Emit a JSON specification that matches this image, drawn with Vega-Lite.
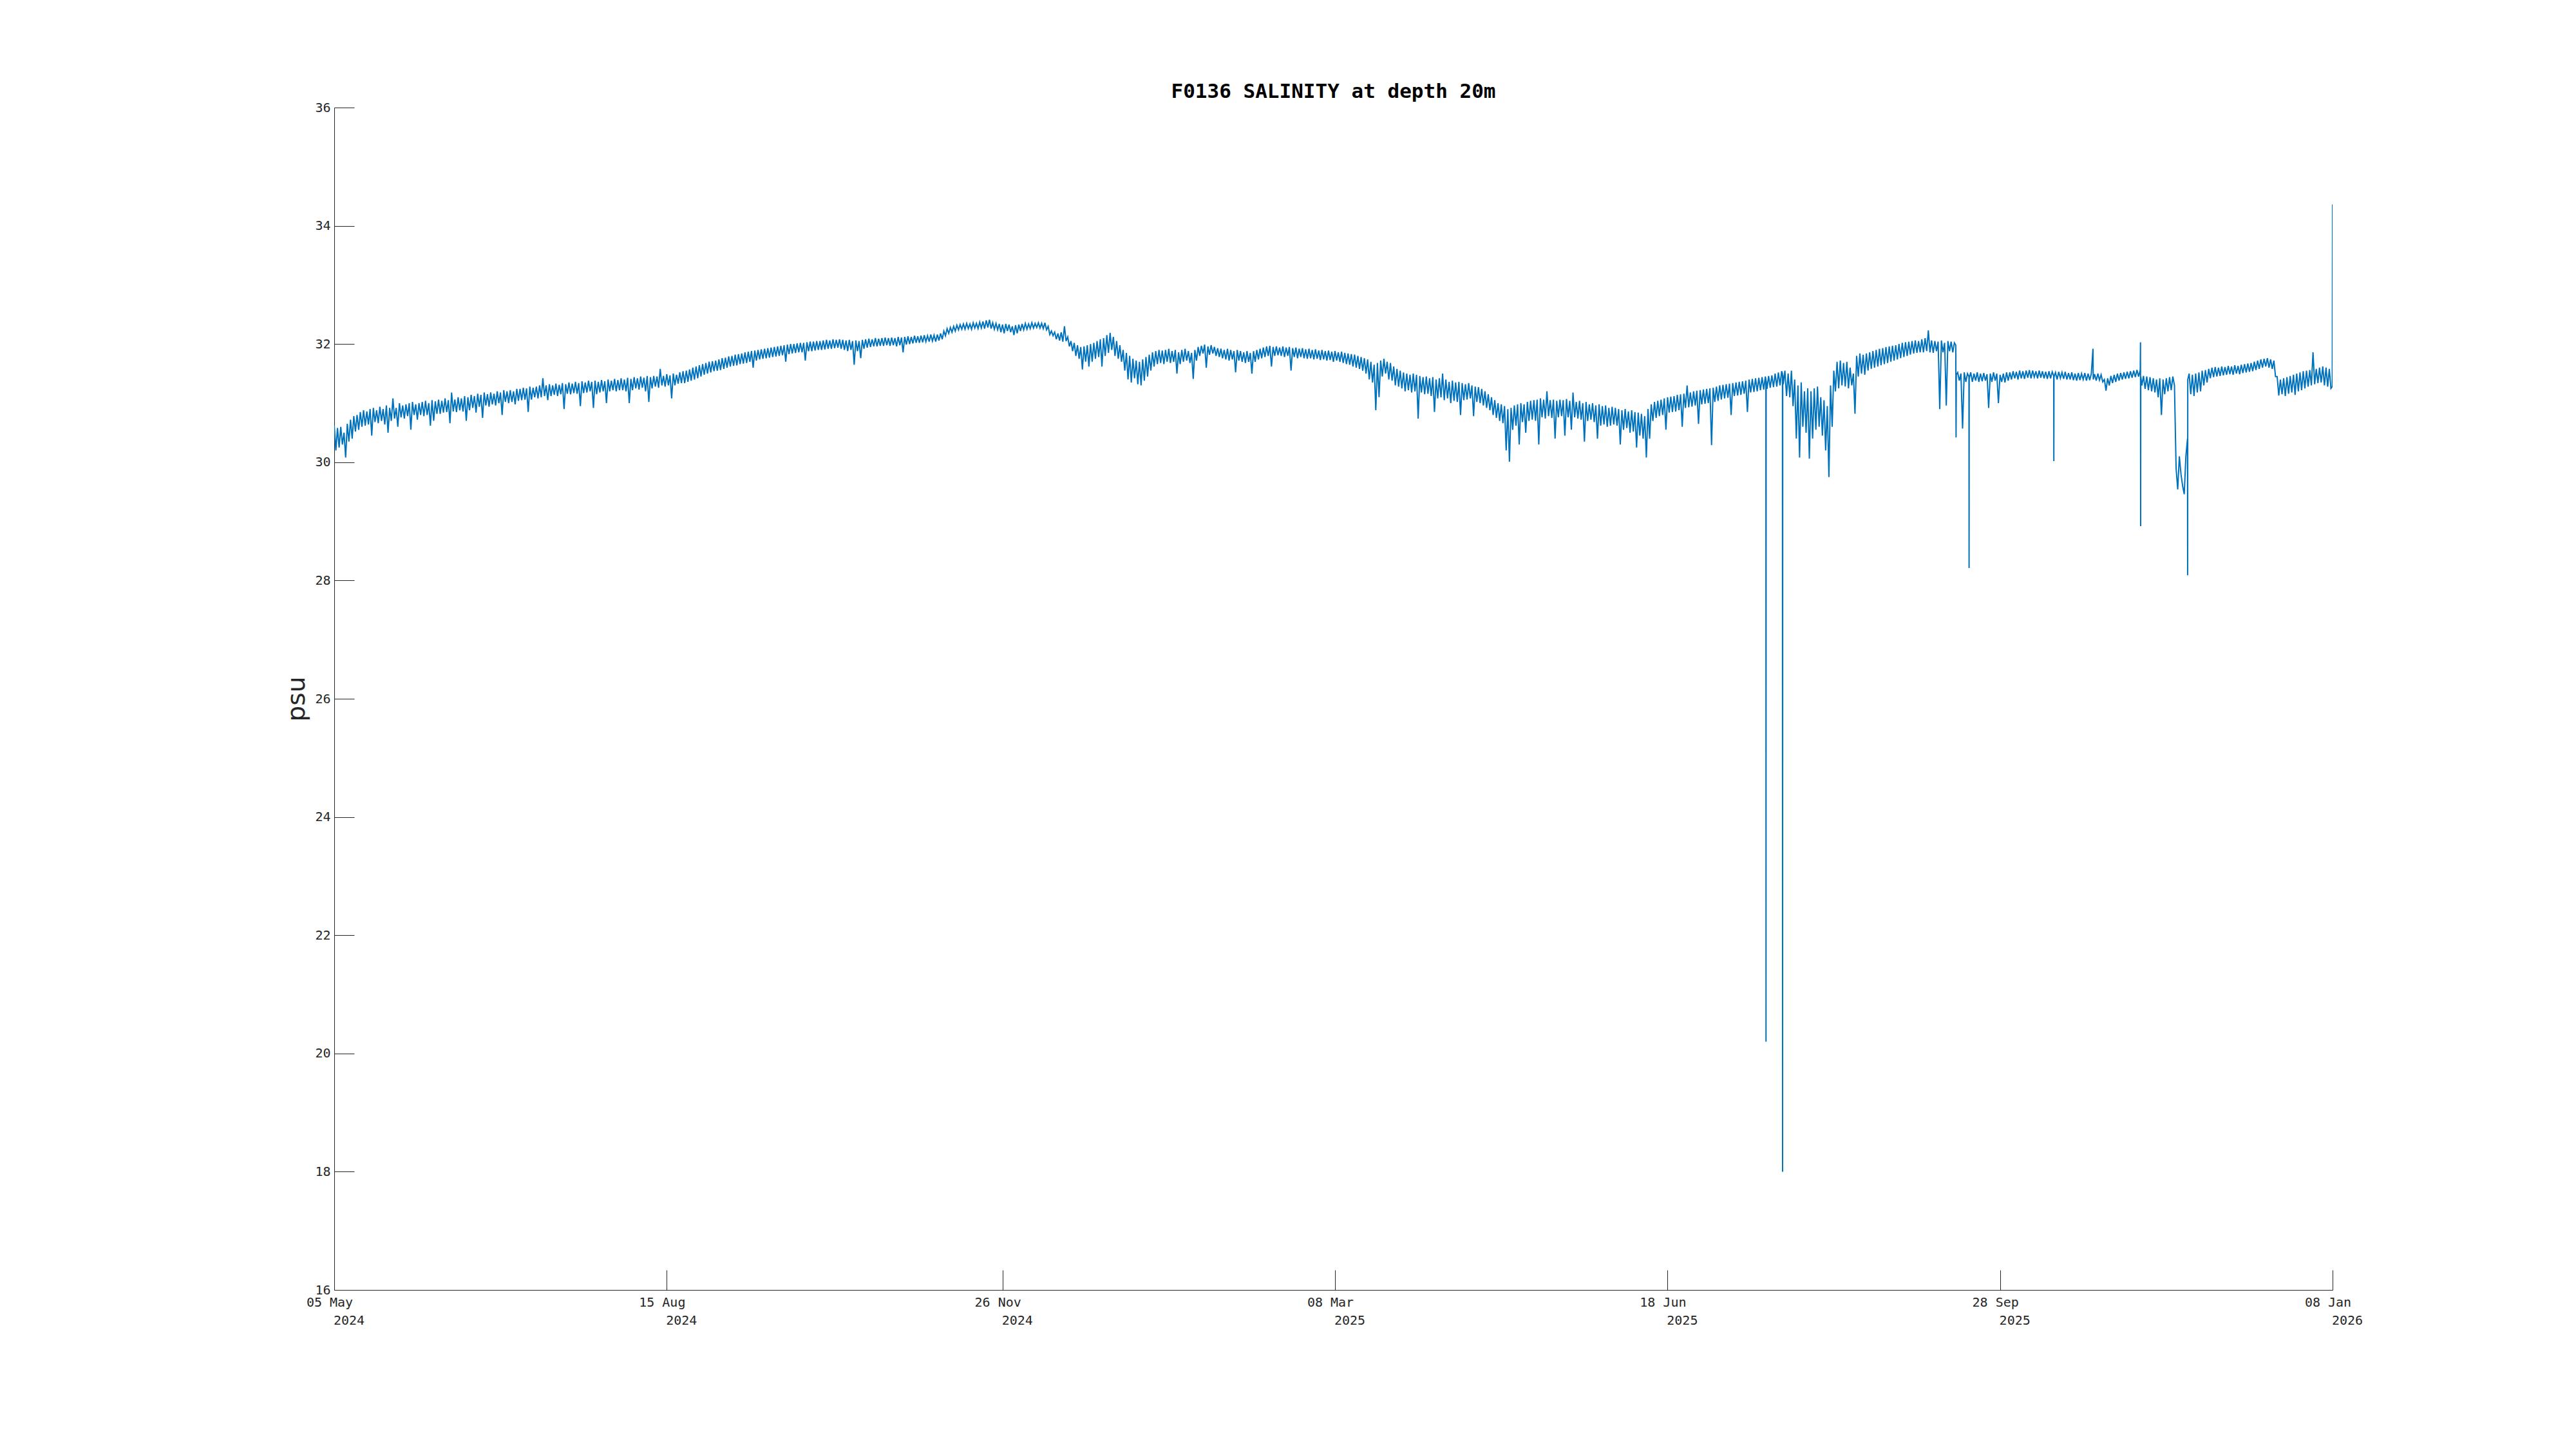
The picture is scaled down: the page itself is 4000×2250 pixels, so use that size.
{
"$schema": "https://vega.github.io/schema/vega-lite/v6.json",
"width": 3103, "height": 1836,
"autosize": {"type": "none"},
"padding": {"left": 519, "top": 167, "right": 378, "bottom": 247},
"background": "white",
"config": {"view": {"stroke": null}},
"title": {"text": "F0136 SALINITY at depth 20m", "font": "DejaVu Sans Mono", "fontSize": 31, "fontWeight": "bold", "color": "#000000", "anchor": "middle", "frame": "group", "offset": 15, "dy": 41, "baseline": "alphabetic"},
"data": {"format": {"parse": {"t": "utc:'%Y%m%d%H'"}}, "values": [
{"t":"2024050500","v":30.62},{"t":"2024050512","v":30.20},{"t":"2024050600","v":30.58},{"t":"2024050612","v":30.25},{"t":"2024050700","v":30.60},{"t":"2024050712","v":30.30},{"t":"2024050800","v":30.50},{"t":"2024050812","v":30.08},{"t":"2024050900","v":30.65},{"t":"2024050912","v":30.35},{"t":"2024051000","v":30.72},{"t":"2024051012","v":30.40},{"t":"2024051100","v":30.78},{"t":"2024051112","v":30.52},{"t":"2024051200","v":30.80},{"t":"2024051212","v":30.55},{"t":"2024051300","v":30.85},{"t":"2024051312","v":30.60},{"t":"2024051400","v":30.88},{"t":"2024051412","v":30.62},{"t":"2024051500","v":30.86},{"t":"2024051512","v":30.64},{"t":"2024051600","v":30.90},{"t":"2024051612","v":30.45},{"t":"2024051700","v":30.92},{"t":"2024051712","v":30.68},{"t":"2024051800","v":30.88},{"t":"2024051812","v":30.66},{"t":"2024051900","v":30.94},{"t":"2024051912","v":30.70},{"t":"2024052000","v":30.90},{"t":"2024052012","v":30.64},{"t":"2024052100","v":30.96},{"t":"2024052112","v":30.50},{"t":"2024052200","v":30.92},{"t":"2024052212","v":30.70},{"t":"2024052300","v":31.08},{"t":"2024052312","v":30.74},{"t":"2024052400","v":30.92},{"t":"2024052412","v":30.60},{"t":"2024052500","v":31.00},{"t":"2024052512","v":30.76},{"t":"2024052600","v":30.96},{"t":"2024052612","v":30.74},{"t":"2024052700","v":30.98},{"t":"2024052712","v":30.78},{"t":"2024052800","v":31.00},{"t":"2024052812","v":30.55},{"t":"2024052900","v":31.02},{"t":"2024052912","v":30.80},{"t":"2024053000","v":30.98},{"t":"2024053012","v":30.72},{"t":"2024053100","v":31.00},{"t":"2024053112","v":30.80},
{"t":"2024060100","v":31.02},{"t":"2024060112","v":30.78},{"t":"2024060200","v":31.04},{"t":"2024060212","v":30.80},{"t":"2024060300","v":31.00},{"t":"2024060312","v":30.62},{"t":"2024060400","v":31.05},{"t":"2024060412","v":30.70},{"t":"2024060500","v":31.03},{"t":"2024060512","v":30.82},{"t":"2024060600","v":31.06},{"t":"2024060612","v":30.82},{"t":"2024060700","v":31.04},{"t":"2024060712","v":30.84},{"t":"2024060800","v":31.08},{"t":"2024060812","v":30.85},{"t":"2024060900","v":31.05},{"t":"2024060912","v":30.66},{"t":"2024061000","v":31.18},{"t":"2024061012","v":30.86},{"t":"2024061100","v":31.06},{"t":"2024061112","v":30.85},{"t":"2024061200","v":31.10},{"t":"2024061212","v":30.88},{"t":"2024061300","v":31.08},{"t":"2024061312","v":30.86},{"t":"2024061400","v":31.12},{"t":"2024061412","v":30.70},{"t":"2024061500","v":31.10},{"t":"2024061512","v":30.88},{"t":"2024061600","v":31.14},{"t":"2024061612","v":30.92},{"t":"2024061700","v":31.12},{"t":"2024061712","v":30.84},{"t":"2024061800","v":31.16},{"t":"2024061812","v":30.94},{"t":"2024061900","v":31.14},{"t":"2024061912","v":30.75},{"t":"2024062000","v":31.18},{"t":"2024062012","v":30.96},{"t":"2024062100","v":31.15},{"t":"2024062112","v":30.94},{"t":"2024062200","v":31.18},{"t":"2024062212","v":30.98},{"t":"2024062300","v":31.16},{"t":"2024062312","v":30.96},{"t":"2024062400","v":31.20},{"t":"2024062412","v":31.00},{"t":"2024062500","v":31.18},{"t":"2024062512","v":30.80},{"t":"2024062600","v":31.22},{"t":"2024062612","v":31.02},{"t":"2024062700","v":31.20},{"t":"2024062712","v":31.00},{"t":"2024062800","v":31.22},{"t":"2024062812","v":31.02},{"t":"2024062900","v":31.20},{"t":"2024062912","v":30.98},{"t":"2024063000","v":31.24},{"t":"2024063012","v":31.04},
{"t":"2024070100","v":31.24},{"t":"2024070112","v":31.05},{"t":"2024070200","v":31.26},{"t":"2024070212","v":31.06},{"t":"2024070300","v":31.25},{"t":"2024070312","v":30.85},{"t":"2024070400","v":31.28},{"t":"2024070412","v":31.06},{"t":"2024070500","v":31.26},{"t":"2024070512","v":31.10},{"t":"2024070600","v":31.28},{"t":"2024070612","v":31.08},{"t":"2024070700","v":31.30},{"t":"2024070712","v":31.10},{"t":"2024070800","v":31.42},{"t":"2024070812","v":31.12},{"t":"2024070900","v":31.30},{"t":"2024070912","v":31.05},{"t":"2024071000","v":31.32},{"t":"2024071012","v":31.12},{"t":"2024071100","v":31.30},{"t":"2024071112","v":31.14},{"t":"2024071200","v":31.33},{"t":"2024071212","v":31.12},{"t":"2024071300","v":31.31},{"t":"2024071312","v":31.15},{"t":"2024071400","v":31.34},{"t":"2024071412","v":30.90},{"t":"2024071500","v":31.32},{"t":"2024071512","v":31.16},{"t":"2024071600","v":31.35},{"t":"2024071612","v":31.15},{"t":"2024071700","v":31.33},{"t":"2024071712","v":31.17},{"t":"2024071800","v":31.36},{"t":"2024071812","v":31.16},{"t":"2024071900","v":31.34},{"t":"2024071912","v":30.95},{"t":"2024072000","v":31.37},{"t":"2024072012","v":31.17},{"t":"2024072100","v":31.35},{"t":"2024072112","v":31.18},{"t":"2024072200","v":31.38},{"t":"2024072212","v":31.20},{"t":"2024072300","v":31.36},{"t":"2024072312","v":30.92},{"t":"2024072400","v":31.38},{"t":"2024072412","v":31.15},{"t":"2024072500","v":31.36},{"t":"2024072512","v":31.18},{"t":"2024072600","v":31.39},{"t":"2024072612","v":31.20},{"t":"2024072700","v":31.37},{"t":"2024072712","v":31.00},{"t":"2024072800","v":31.40},{"t":"2024072812","v":31.20},{"t":"2024072900","v":31.38},{"t":"2024072912","v":31.22},{"t":"2024073000","v":31.41},{"t":"2024073012","v":31.20},{"t":"2024073100","v":31.39},{"t":"2024073112","v":31.22},
{"t":"2024080100","v":31.42},{"t":"2024080112","v":31.22},{"t":"2024080200","v":31.40},{"t":"2024080212","v":31.20},{"t":"2024080300","v":31.43},{"t":"2024080312","v":31.00},{"t":"2024080400","v":31.41},{"t":"2024080412","v":31.22},{"t":"2024080500","v":31.44},{"t":"2024080512","v":31.25},{"t":"2024080600","v":31.42},{"t":"2024080612","v":31.23},{"t":"2024080700","v":31.45},{"t":"2024080712","v":31.26},{"t":"2024080800","v":31.43},{"t":"2024080812","v":31.20},{"t":"2024080900","v":31.46},{"t":"2024080912","v":31.02},{"t":"2024081000","v":31.44},{"t":"2024081012","v":31.25},{"t":"2024081100","v":31.46},{"t":"2024081112","v":31.28},{"t":"2024081200","v":31.45},{"t":"2024081212","v":31.26},{"t":"2024081300","v":31.58},{"t":"2024081312","v":31.30},{"t":"2024081400","v":31.46},{"t":"2024081412","v":31.28},{"t":"2024081500","v":31.49},{"t":"2024081512","v":31.30},{"t":"2024081600","v":31.47},{"t":"2024081612","v":31.08},{"t":"2024081700","v":31.50},{"t":"2024081712","v":31.30},{"t":"2024081800","v":31.48},{"t":"2024081812","v":31.33},{"t":"2024081900","v":31.52},{"t":"2024081912","v":31.34},{"t":"2024082000","v":31.54},{"t":"2024082012","v":31.34},{"t":"2024082100","v":31.55},{"t":"2024082112","v":31.36},{"t":"2024082200","v":31.57},{"t":"2024082212","v":31.38},{"t":"2024082300","v":31.60},{"t":"2024082312","v":31.40},{"t":"2024082400","v":31.62},{"t":"2024082412","v":31.42},{"t":"2024082500","v":31.64},{"t":"2024082512","v":31.45},{"t":"2024082600","v":31.66},{"t":"2024082612","v":31.48},{"t":"2024082700","v":31.68},{"t":"2024082712","v":31.50},{"t":"2024082800","v":31.70},{"t":"2024082812","v":31.52},{"t":"2024082900","v":31.71},{"t":"2024082912","v":31.54},{"t":"2024083000","v":31.72},{"t":"2024083012","v":31.55},{"t":"2024083100","v":31.74},{"t":"2024083112","v":31.56},
{"t":"2024090100","v":31.76},{"t":"2024090112","v":31.58},{"t":"2024090200","v":31.77},{"t":"2024090212","v":31.60},{"t":"2024090300","v":31.79},{"t":"2024090312","v":31.62},{"t":"2024090400","v":31.80},{"t":"2024090412","v":31.63},{"t":"2024090500","v":31.82},{"t":"2024090512","v":31.64},{"t":"2024090600","v":31.83},{"t":"2024090612","v":31.66},{"t":"2024090700","v":31.84},{"t":"2024090712","v":31.67},{"t":"2024090800","v":31.86},{"t":"2024090812","v":31.68},{"t":"2024090900","v":31.87},{"t":"2024090912","v":31.70},{"t":"2024091000","v":31.88},{"t":"2024091012","v":31.60},{"t":"2024091100","v":31.89},{"t":"2024091112","v":31.72},{"t":"2024091200","v":31.90},{"t":"2024091212","v":31.74},{"t":"2024091300","v":31.91},{"t":"2024091312","v":31.75},{"t":"2024091400","v":31.92},{"t":"2024091412","v":31.76},{"t":"2024091500","v":31.93},{"t":"2024091512","v":31.77},{"t":"2024091600","v":31.94},{"t":"2024091612","v":31.78},{"t":"2024091700","v":31.95},{"t":"2024091712","v":31.79},{"t":"2024091800","v":31.96},{"t":"2024091812","v":31.80},{"t":"2024091900","v":31.97},{"t":"2024091912","v":31.81},{"t":"2024092000","v":31.98},{"t":"2024092012","v":31.70},{"t":"2024092100","v":31.99},{"t":"2024092112","v":31.83},{"t":"2024092200","v":32.00},{"t":"2024092212","v":31.84},{"t":"2024092300","v":32.00},{"t":"2024092312","v":31.85},{"t":"2024092400","v":32.01},{"t":"2024092412","v":31.86},{"t":"2024092500","v":32.02},{"t":"2024092512","v":31.86},{"t":"2024092600","v":32.02},{"t":"2024092612","v":31.72},{"t":"2024092700","v":32.03},{"t":"2024092712","v":31.88},{"t":"2024092800","v":32.04},{"t":"2024092812","v":31.88},{"t":"2024092900","v":32.04},{"t":"2024092912","v":31.89},{"t":"2024093000","v":32.05},{"t":"2024093012","v":31.90},
{"t":"2024100100","v":32.05},{"t":"2024100112","v":31.90},{"t":"2024100200","v":32.06},{"t":"2024100212","v":31.91},{"t":"2024100300","v":32.07},{"t":"2024100312","v":31.92},{"t":"2024100400","v":32.06},{"t":"2024100412","v":31.92},{"t":"2024100500","v":32.08},{"t":"2024100512","v":31.93},{"t":"2024100600","v":32.07},{"t":"2024100612","v":31.94},{"t":"2024100700","v":32.08},{"t":"2024100712","v":31.92},{"t":"2024100800","v":32.07},{"t":"2024100812","v":31.90},{"t":"2024100900","v":32.06},{"t":"2024100912","v":31.88},{"t":"2024101000","v":32.07},{"t":"2024101012","v":31.90},{"t":"2024101100","v":32.05},{"t":"2024101112","v":31.65},{"t":"2024101200","v":32.06},{"t":"2024101212","v":31.88},{"t":"2024101300","v":32.05},{"t":"2024101312","v":31.76},{"t":"2024101400","v":32.07},{"t":"2024101412","v":31.92},{"t":"2024101500","v":32.08},{"t":"2024101512","v":31.94},{"t":"2024101600","v":32.09},{"t":"2024101612","v":31.95},{"t":"2024101700","v":32.08},{"t":"2024101712","v":31.96},{"t":"2024101800","v":32.10},{"t":"2024101812","v":31.96},{"t":"2024101900","v":32.09},{"t":"2024101912","v":31.97},{"t":"2024102000","v":32.10},{"t":"2024102012","v":31.97},{"t":"2024102100","v":32.11},{"t":"2024102112","v":31.98},{"t":"2024102200","v":32.10},{"t":"2024102212","v":31.97},{"t":"2024102300","v":32.11},{"t":"2024102312","v":31.98},{"t":"2024102400","v":32.10},{"t":"2024102412","v":31.96},{"t":"2024102500","v":32.12},{"t":"2024102512","v":31.98},{"t":"2024102600","v":32.11},{"t":"2024102612","v":31.86},{"t":"2024102700","v":32.12},{"t":"2024102712","v":31.99},{"t":"2024102800","v":32.13},{"t":"2024102812","v":32.00},{"t":"2024102900","v":32.12},{"t":"2024102912","v":32.01},{"t":"2024103000","v":32.14},{"t":"2024103012","v":32.02},{"t":"2024103100","v":32.13},{"t":"2024103112","v":32.02},
{"t":"2024110100","v":32.14},{"t":"2024110112","v":32.03},{"t":"2024110200","v":32.15},{"t":"2024110212","v":32.04},{"t":"2024110300","v":32.14},{"t":"2024110312","v":32.04},{"t":"2024110400","v":32.16},{"t":"2024110412","v":32.05},{"t":"2024110500","v":32.15},{"t":"2024110512","v":32.04},{"t":"2024110600","v":32.16},{"t":"2024110612","v":32.06},{"t":"2024110700","v":32.18},{"t":"2024110712","v":32.08},{"t":"2024110800","v":32.22},{"t":"2024110812","v":32.14},{"t":"2024110900","v":32.26},{"t":"2024110912","v":32.18},{"t":"2024111000","v":32.28},{"t":"2024111012","v":32.20},{"t":"2024111100","v":32.30},{"t":"2024111112","v":32.22},{"t":"2024111200","v":32.32},{"t":"2024111212","v":32.24},{"t":"2024111300","v":32.33},{"t":"2024111312","v":32.25},{"t":"2024111400","v":32.34},{"t":"2024111412","v":32.25},{"t":"2024111500","v":32.35},{"t":"2024111512","v":32.26},{"t":"2024111600","v":32.34},{"t":"2024111612","v":32.25},{"t":"2024111700","v":32.36},{"t":"2024111712","v":32.27},{"t":"2024111800","v":32.35},{"t":"2024111812","v":32.26},{"t":"2024111900","v":32.37},{"t":"2024111912","v":32.27},{"t":"2024112000","v":32.38},{"t":"2024112012","v":32.26},{"t":"2024112100","v":32.40},{"t":"2024112112","v":32.28},{"t":"2024112200","v":32.41},{"t":"2024112212","v":32.26},{"t":"2024112300","v":32.36},{"t":"2024112312","v":32.25},{"t":"2024112400","v":32.35},{"t":"2024112412","v":32.24},{"t":"2024112500","v":32.34},{"t":"2024112512","v":32.20},{"t":"2024112600","v":32.33},{"t":"2024112612","v":32.18},{"t":"2024112700","v":32.34},{"t":"2024112712","v":32.22},{"t":"2024112800","v":32.33},{"t":"2024112812","v":32.20},{"t":"2024112900","v":32.30},{"t":"2024112912","v":32.15},{"t":"2024113000","v":32.32},{"t":"2024113012","v":32.18},
{"t":"2024120100","v":32.33},{"t":"2024120112","v":32.22},{"t":"2024120200","v":32.34},{"t":"2024120212","v":32.24},{"t":"2024120300","v":32.35},{"t":"2024120312","v":32.25},{"t":"2024120400","v":32.34},{"t":"2024120412","v":32.26},{"t":"2024120500","v":32.36},{"t":"2024120512","v":32.27},{"t":"2024120600","v":32.35},{"t":"2024120612","v":32.28},{"t":"2024120700","v":32.36},{"t":"2024120712","v":32.27},{"t":"2024120800","v":32.35},{"t":"2024120812","v":32.26},{"t":"2024120900","v":32.36},{"t":"2024120912","v":32.24},{"t":"2024121000","v":32.30},{"t":"2024121012","v":32.16},{"t":"2024121100","v":32.22},{"t":"2024121112","v":32.14},{"t":"2024121200","v":32.20},{"t":"2024121212","v":32.08},{"t":"2024121300","v":32.18},{"t":"2024121312","v":32.06},{"t":"2024121400","v":32.20},{"t":"2024121412","v":32.04},{"t":"2024121500","v":32.30},{"t":"2024121512","v":32.05},{"t":"2024121600","v":32.12},{"t":"2024121612","v":31.96},{"t":"2024121700","v":32.05},{"t":"2024121712","v":31.88},{"t":"2024121800","v":32.02},{"t":"2024121812","v":31.80},{"t":"2024121900","v":31.98},{"t":"2024121912","v":31.75},{"t":"2024122000","v":31.95},{"t":"2024122012","v":31.57},{"t":"2024122100","v":31.96},{"t":"2024122112","v":31.70},{"t":"2024122200","v":31.98},{"t":"2024122212","v":31.62},{"t":"2024122300","v":32.00},{"t":"2024122312","v":31.70},{"t":"2024122400","v":32.02},{"t":"2024122412","v":31.75},{"t":"2024122500","v":32.05},{"t":"2024122512","v":31.78},{"t":"2024122600","v":32.08},{"t":"2024122612","v":31.62},{"t":"2024122700","v":32.10},{"t":"2024122712","v":31.80},{"t":"2024122800","v":32.15},{"t":"2024122812","v":31.85},{"t":"2024122900","v":32.19},{"t":"2024122912","v":31.90},{"t":"2024123000","v":32.12},{"t":"2024123012","v":31.80},{"t":"2024123100","v":32.05},{"t":"2024123112","v":31.75},
{"t":"2025010100","v":31.98},{"t":"2025010112","v":31.70},{"t":"2025010200","v":31.90},{"t":"2025010212","v":31.55},{"t":"2025010300","v":31.85},{"t":"2025010312","v":31.40},{"t":"2025010400","v":31.80},{"t":"2025010412","v":31.35},{"t":"2025010500","v":31.75},{"t":"2025010512","v":31.42},{"t":"2025010600","v":31.72},{"t":"2025010612","v":31.32},{"t":"2025010700","v":31.70},{"t":"2025010712","v":31.30},{"t":"2025010800","v":31.74},{"t":"2025010812","v":31.38},{"t":"2025010900","v":31.78},{"t":"2025010912","v":31.45},{"t":"2025011000","v":31.82},{"t":"2025011012","v":31.55},{"t":"2025011100","v":31.86},{"t":"2025011112","v":31.62},{"t":"2025011200","v":31.88},{"t":"2025011212","v":31.66},{"t":"2025011300","v":31.90},{"t":"2025011312","v":31.68},{"t":"2025011400","v":31.89},{"t":"2025011412","v":31.66},{"t":"2025011500","v":31.90},{"t":"2025011512","v":31.70},{"t":"2025011600","v":31.92},{"t":"2025011612","v":31.68},{"t":"2025011700","v":31.88},{"t":"2025011712","v":31.70},{"t":"2025011800","v":31.90},{"t":"2025011812","v":31.50},{"t":"2025011900","v":31.86},{"t":"2025011912","v":31.66},{"t":"2025012000","v":31.90},{"t":"2025012012","v":31.70},{"t":"2025012100","v":31.92},{"t":"2025012112","v":31.72},{"t":"2025012200","v":31.88},{"t":"2025012212","v":31.68},{"t":"2025012300","v":31.85},{"t":"2025012312","v":31.41},{"t":"2025012400","v":31.90},{"t":"2025012412","v":31.72},{"t":"2025012500","v":31.95},{"t":"2025012512","v":31.80},{"t":"2025012600","v":31.97},{"t":"2025012612","v":31.84},{"t":"2025012700","v":31.99},{"t":"2025012712","v":31.60},{"t":"2025012800","v":31.96},{"t":"2025012812","v":31.82},{"t":"2025012900","v":31.98},{"t":"2025012912","v":31.84},{"t":"2025013000","v":31.95},{"t":"2025013012","v":31.80},{"t":"2025013100","v":31.93},{"t":"2025013112","v":31.78},
{"t":"2025020100","v":31.92},{"t":"2025020112","v":31.76},{"t":"2025020200","v":31.90},{"t":"2025020212","v":31.74},{"t":"2025020300","v":31.92},{"t":"2025020312","v":31.72},{"t":"2025020400","v":31.90},{"t":"2025020412","v":31.74},{"t":"2025020500","v":31.88},{"t":"2025020512","v":31.52},{"t":"2025020600","v":31.90},{"t":"2025020612","v":31.72},{"t":"2025020700","v":31.88},{"t":"2025020712","v":31.70},{"t":"2025020800","v":31.86},{"t":"2025020812","v":31.68},{"t":"2025020900","v":31.88},{"t":"2025020912","v":31.70},{"t":"2025021000","v":31.85},{"t":"2025021012","v":31.50},{"t":"2025021100","v":31.88},{"t":"2025021112","v":31.70},{"t":"2025021200","v":31.90},{"t":"2025021212","v":31.74},{"t":"2025021300","v":31.92},{"t":"2025021312","v":31.76},{"t":"2025021400","v":31.94},{"t":"2025021412","v":31.78},{"t":"2025021500","v":31.96},{"t":"2025021512","v":31.80},{"t":"2025021600","v":31.97},{"t":"2025021612","v":31.62},{"t":"2025021700","v":31.95},{"t":"2025021712","v":31.80},{"t":"2025021800","v":31.96},{"t":"2025021812","v":31.81},{"t":"2025021900","v":31.94},{"t":"2025021912","v":31.80},{"t":"2025022000","v":31.96},{"t":"2025022012","v":31.78},{"t":"2025022100","v":31.94},{"t":"2025022112","v":31.80},{"t":"2025022200","v":31.95},{"t":"2025022212","v":31.55},{"t":"2025022300","v":31.93},{"t":"2025022312","v":31.78},{"t":"2025022400","v":31.94},{"t":"2025022412","v":31.76},{"t":"2025022500","v":31.92},{"t":"2025022512","v":31.78},{"t":"2025022600","v":31.93},{"t":"2025022612","v":31.76},{"t":"2025022700","v":31.91},{"t":"2025022712","v":31.75},{"t":"2025022800","v":31.92},{"t":"2025022812","v":31.76},
{"t":"2025030100","v":31.90},{"t":"2025030112","v":31.74},{"t":"2025030200","v":31.91},{"t":"2025030212","v":31.75},{"t":"2025030300","v":31.89},{"t":"2025030312","v":31.73},{"t":"2025030400","v":31.90},{"t":"2025030412","v":31.74},{"t":"2025030500","v":31.88},{"t":"2025030512","v":31.72},{"t":"2025030600","v":31.89},{"t":"2025030612","v":31.73},{"t":"2025030700","v":31.87},{"t":"2025030712","v":31.70},{"t":"2025030800","v":31.88},{"t":"2025030812","v":31.72},{"t":"2025030900","v":31.86},{"t":"2025030912","v":31.70},{"t":"2025031000","v":31.87},{"t":"2025031012","v":31.68},{"t":"2025031100","v":31.85},{"t":"2025031112","v":31.66},{"t":"2025031200","v":31.84},{"t":"2025031212","v":31.65},{"t":"2025031300","v":31.83},{"t":"2025031312","v":31.62},{"t":"2025031400","v":31.82},{"t":"2025031412","v":31.60},{"t":"2025031500","v":31.80},{"t":"2025031512","v":31.58},{"t":"2025031600","v":31.78},{"t":"2025031612","v":31.55},{"t":"2025031700","v":31.76},{"t":"2025031712","v":31.50},{"t":"2025031800","v":31.74},{"t":"2025031812","v":31.40},{"t":"2025031900","v":31.70},{"t":"2025031912","v":31.35},{"t":"2025032000","v":31.65},{"t":"2025032012","v":30.88},{"t":"2025032100","v":31.68},{"t":"2025032112","v":31.10},{"t":"2025032200","v":31.72},{"t":"2025032212","v":31.45},{"t":"2025032300","v":31.75},{"t":"2025032312","v":31.50},{"t":"2025032400","v":31.70},{"t":"2025032412","v":31.40},{"t":"2025032500","v":31.68},{"t":"2025032512","v":31.38},{"t":"2025032600","v":31.62},{"t":"2025032612","v":31.30},{"t":"2025032700","v":31.58},{"t":"2025032712","v":31.28},{"t":"2025032800","v":31.55},{"t":"2025032812","v":31.25},{"t":"2025032900","v":31.52},{"t":"2025032912","v":31.20},{"t":"2025033000","v":31.50},{"t":"2025033012","v":31.22},{"t":"2025033100","v":31.48},{"t":"2025033112","v":31.18},
{"t":"2025040100","v":31.50},{"t":"2025040112","v":31.20},{"t":"2025040200","v":31.48},{"t":"2025040212","v":30.74},{"t":"2025040300","v":31.46},{"t":"2025040312","v":31.18},{"t":"2025040400","v":31.44},{"t":"2025040412","v":31.15},{"t":"2025040500","v":31.45},{"t":"2025040512","v":31.16},{"t":"2025040600","v":31.42},{"t":"2025040612","v":31.12},{"t":"2025040700","v":31.44},{"t":"2025040712","v":30.85},{"t":"2025040800","v":31.40},{"t":"2025040812","v":31.08},{"t":"2025040900","v":31.42},{"t":"2025040912","v":31.10},{"t":"2025041000","v":31.50},{"t":"2025041012","v":31.05},{"t":"2025041100","v":31.40},{"t":"2025041112","v":31.08},{"t":"2025041200","v":31.36},{"t":"2025041212","v":31.00},{"t":"2025041300","v":31.38},{"t":"2025041312","v":31.04},{"t":"2025041400","v":31.35},{"t":"2025041412","v":31.02},{"t":"2025041500","v":31.36},{"t":"2025041512","v":30.80},{"t":"2025041600","v":31.34},{"t":"2025041612","v":31.05},{"t":"2025041700","v":31.32},{"t":"2025041712","v":31.06},{"t":"2025041800","v":31.34},{"t":"2025041812","v":31.08},{"t":"2025041900","v":31.30},{"t":"2025041912","v":30.78},{"t":"2025042000","v":31.28},{"t":"2025042012","v":31.02},{"t":"2025042100","v":31.27},{"t":"2025042112","v":31.00},{"t":"2025042200","v":31.24},{"t":"2025042212","v":30.96},{"t":"2025042300","v":31.20},{"t":"2025042312","v":30.92},{"t":"2025042400","v":31.15},{"t":"2025042412","v":30.88},{"t":"2025042500","v":31.10},{"t":"2025042512","v":30.80},{"t":"2025042600","v":31.05},{"t":"2025042612","v":30.75},{"t":"2025042700","v":31.00},{"t":"2025042712","v":30.70},{"t":"2025042800","v":30.98},{"t":"2025042812","v":30.66},{"t":"2025042900","v":30.95},{"t":"2025042912","v":30.20},{"t":"2025043000","v":30.90},{"t":"2025043012","v":30.01},
{"t":"2025050100","v":30.92},{"t":"2025050112","v":30.55},{"t":"2025050200","v":30.96},{"t":"2025050212","v":30.62},{"t":"2025050300","v":30.98},{"t":"2025050312","v":30.30},{"t":"2025050400","v":31.00},{"t":"2025050412","v":30.68},{"t":"2025050500","v":30.98},{"t":"2025050512","v":30.50},{"t":"2025050600","v":31.02},{"t":"2025050612","v":30.70},{"t":"2025050700","v":31.04},{"t":"2025050712","v":30.72},{"t":"2025050800","v":31.05},{"t":"2025050812","v":30.70},{"t":"2025050900","v":31.06},{"t":"2025050912","v":30.30},{"t":"2025051000","v":31.08},{"t":"2025051012","v":30.76},{"t":"2025051100","v":31.06},{"t":"2025051112","v":30.74},{"t":"2025051200","v":31.20},{"t":"2025051212","v":30.78},{"t":"2025051300","v":31.05},{"t":"2025051312","v":30.75},{"t":"2025051400","v":31.06},{"t":"2025051412","v":30.40},{"t":"2025051500","v":31.04},{"t":"2025051512","v":30.76},{"t":"2025051600","v":31.06},{"t":"2025051612","v":30.78},{"t":"2025051700","v":31.05},{"t":"2025051712","v":30.45},{"t":"2025051800","v":31.07},{"t":"2025051812","v":30.76},{"t":"2025051900","v":31.04},{"t":"2025051912","v":30.55},{"t":"2025052000","v":31.18},{"t":"2025052012","v":30.76},{"t":"2025052100","v":31.02},{"t":"2025052112","v":30.74},{"t":"2025052200","v":31.04},{"t":"2025052212","v":30.72},{"t":"2025052300","v":31.00},{"t":"2025052312","v":30.35},{"t":"2025052400","v":31.02},{"t":"2025052412","v":30.70},{"t":"2025052500","v":30.98},{"t":"2025052512","v":30.72},{"t":"2025052600","v":31.00},{"t":"2025052612","v":30.68},{"t":"2025052700","v":30.96},{"t":"2025052712","v":30.40},{"t":"2025052800","v":30.98},{"t":"2025052812","v":30.62},{"t":"2025052900","v":30.95},{"t":"2025052912","v":30.64},{"t":"2025053000","v":30.96},{"t":"2025053012","v":30.60},{"t":"2025053100","v":30.92},{"t":"2025053112","v":30.62},
{"t":"2025060100","v":30.94},{"t":"2025060112","v":30.64},{"t":"2025060200","v":30.92},{"t":"2025060212","v":30.62},{"t":"2025060300","v":30.90},{"t":"2025060312","v":30.30},{"t":"2025060400","v":30.88},{"t":"2025060412","v":30.55},{"t":"2025060500","v":30.90},{"t":"2025060512","v":30.58},{"t":"2025060600","v":30.86},{"t":"2025060612","v":30.50},{"t":"2025060700","v":30.88},{"t":"2025060712","v":30.52},{"t":"2025060800","v":30.85},{"t":"2025060812","v":30.25},{"t":"2025060900","v":30.84},{"t":"2025060912","v":30.45},{"t":"2025061000","v":30.82},{"t":"2025061012","v":30.40},{"t":"2025061100","v":30.78},{"t":"2025061112","v":30.08},{"t":"2025061200","v":30.90},{"t":"2025061212","v":30.40},{"t":"2025061300","v":30.98},{"t":"2025061312","v":30.70},{"t":"2025061400","v":31.02},{"t":"2025061412","v":30.75},{"t":"2025061500","v":31.04},{"t":"2025061512","v":30.78},{"t":"2025061600","v":31.06},{"t":"2025061612","v":30.80},{"t":"2025061700","v":31.08},{"t":"2025061712","v":30.55},{"t":"2025061800","v":31.10},{"t":"2025061812","v":30.84},{"t":"2025061900","v":31.11},{"t":"2025061912","v":30.85},{"t":"2025062000","v":31.12},{"t":"2025062012","v":30.86},{"t":"2025062100","v":31.14},{"t":"2025062112","v":30.88},{"t":"2025062200","v":31.15},{"t":"2025062212","v":30.60},{"t":"2025062300","v":31.16},{"t":"2025062312","v":30.92},{"t":"2025062400","v":31.30},{"t":"2025062412","v":30.93},{"t":"2025062500","v":31.18},{"t":"2025062512","v":30.94},{"t":"2025062600","v":31.20},{"t":"2025062612","v":30.96},{"t":"2025062700","v":31.21},{"t":"2025062712","v":30.65},{"t":"2025062800","v":31.22},{"t":"2025062812","v":30.98},{"t":"2025062900","v":31.23},{"t":"2025062912","v":30.99},{"t":"2025063000","v":31.24},{"t":"2025063012","v":31.00},
{"t":"2025070100","v":31.25},{"t":"2025070112","v":30.29},{"t":"2025070200","v":31.26},{"t":"2025070212","v":31.02},{"t":"2025070300","v":31.28},{"t":"2025070312","v":31.04},{"t":"2025070400","v":31.30},{"t":"2025070412","v":31.06},{"t":"2025070500","v":31.31},{"t":"2025070512","v":31.08},{"t":"2025070600","v":31.32},{"t":"2025070612","v":31.09},{"t":"2025070700","v":31.33},{"t":"2025070712","v":30.80},{"t":"2025070800","v":31.34},{"t":"2025070812","v":31.12},{"t":"2025070900","v":31.35},{"t":"2025070912","v":31.13},{"t":"2025071000","v":31.36},{"t":"2025071012","v":31.14},{"t":"2025071100","v":31.37},{"t":"2025071112","v":31.16},{"t":"2025071200","v":31.38},{"t":"2025071212","v":30.85},{"t":"2025071300","v":31.40},{"t":"2025071312","v":31.18},{"t":"2025071400","v":31.41},{"t":"2025071412","v":31.19},{"t":"2025071500","v":31.42},{"t":"2025071512","v":31.20},{"t":"2025071600","v":31.43},{"t":"2025071612","v":31.22},{"t":"2025071700","v":31.44},{"t":"2025071712","v":31.23},{"t":"2025071800","v":31.45},{"t":"2025071804","v":31.40},{"t":"2025071805","v":20.20},{"t":"2025071806","v":31.38},{"t":"2025071812","v":31.24},{"t":"2025071900","v":31.46},{"t":"2025071912","v":31.26},{"t":"2025072000","v":31.47},{"t":"2025072012","v":31.27},{"t":"2025072100","v":31.50},{"t":"2025072112","v":31.28},{"t":"2025072200","v":31.52},{"t":"2025072212","v":31.30},{"t":"2025072300","v":31.54},{"t":"2025072306","v":31.50},{"t":"2025072307","v":18.00},{"t":"2025072308","v":31.48},{"t":"2025072312","v":31.32},{"t":"2025072400","v":31.55},{"t":"2025072412","v":31.12},{"t":"2025072500","v":31.50},{"t":"2025072512","v":31.10},{"t":"2025072600","v":31.55},{"t":"2025072612","v":30.95},{"t":"2025072700","v":31.40},{"t":"2025072712","v":30.40},{"t":"2025072800","v":31.30},{"t":"2025072812","v":30.08},{"t":"2025072900","v":31.35},{"t":"2025072912","v":30.60},{"t":"2025073000","v":31.20},{"t":"2025073012","v":30.50},{"t":"2025073100","v":31.25},{"t":"2025073112","v":30.06},
{"t":"2025080100","v":31.20},{"t":"2025080112","v":30.40},{"t":"2025080200","v":31.25},{"t":"2025080212","v":30.55},{"t":"2025080300","v":31.28},{"t":"2025080312","v":30.60},{"t":"2025080400","v":31.10},{"t":"2025080412","v":30.45},{"t":"2025080500","v":31.05},{"t":"2025080512","v":30.20},{"t":"2025080600","v":30.95},{"t":"2025080612","v":29.75},{"t":"2025080700","v":31.30},{"t":"2025080712","v":30.60},{"t":"2025080800","v":31.55},{"t":"2025080812","v":31.20},{"t":"2025080900","v":31.70},{"t":"2025080912","v":31.25},{"t":"2025081000","v":31.72},{"t":"2025081012","v":31.30},{"t":"2025081100","v":31.68},{"t":"2025081112","v":31.28},{"t":"2025081200","v":31.70},{"t":"2025081212","v":31.25},{"t":"2025081300","v":31.60},{"t":"2025081312","v":31.30},{"t":"2025081400","v":31.50},{"t":"2025081412","v":30.82},{"t":"2025081500","v":31.80},{"t":"2025081512","v":31.45},{"t":"2025081600","v":31.84},{"t":"2025081612","v":31.50},{"t":"2025081700","v":31.82},{"t":"2025081712","v":31.48},{"t":"2025081800","v":31.84},{"t":"2025081812","v":31.55},{"t":"2025081900","v":31.86},{"t":"2025081912","v":31.58},{"t":"2025082000","v":31.88},{"t":"2025082012","v":31.60},{"t":"2025082100","v":31.90},{"t":"2025082112","v":31.62},{"t":"2025082200","v":31.92},{"t":"2025082212","v":31.64},{"t":"2025082300","v":31.93},{"t":"2025082312","v":31.66},{"t":"2025082400","v":31.95},{"t":"2025082412","v":31.68},{"t":"2025082500","v":31.96},{"t":"2025082512","v":31.70},{"t":"2025082600","v":31.97},{"t":"2025082612","v":31.72},{"t":"2025082700","v":31.98},{"t":"2025082712","v":31.74},{"t":"2025082800","v":32.00},{"t":"2025082812","v":31.76},{"t":"2025082900","v":32.02},{"t":"2025082912","v":31.78},{"t":"2025083000","v":32.03},{"t":"2025083012","v":31.80},{"t":"2025083100","v":32.04},{"t":"2025083112","v":31.82},
{"t":"2025090100","v":32.05},{"t":"2025090112","v":31.84},{"t":"2025090200","v":32.06},{"t":"2025090212","v":31.85},{"t":"2025090300","v":32.05},{"t":"2025090312","v":31.86},{"t":"2025090400","v":32.08},{"t":"2025090412","v":31.86},{"t":"2025090500","v":32.10},{"t":"2025090512","v":31.88},{"t":"2025090600","v":32.23},{"t":"2025090612","v":31.86},{"t":"2025090700","v":32.06},{"t":"2025090712","v":31.85},{"t":"2025090800","v":32.05},{"t":"2025090812","v":31.88},{"t":"2025090900","v":32.04},{"t":"2025090912","v":30.90},{"t":"2025091000","v":32.06},{"t":"2025091012","v":31.86},{"t":"2025091100","v":32.02},{"t":"2025091112","v":30.96},{"t":"2025091200","v":32.05},{"t":"2025091212","v":31.88},{"t":"2025091300","v":32.04},{"t":"2025091312","v":31.86},{"t":"2025091400","v":32.02},{"t":"2025091410","v":31.98},{"t":"2025091412","v":30.42},{"t":"2025091414","v":31.48},{"t":"2025091500","v":31.52},{"t":"2025091512","v":31.38},{"t":"2025091600","v":31.50},{"t":"2025091612","v":30.57},{"t":"2025091700","v":31.52},{"t":"2025091712","v":31.36},{"t":"2025091800","v":31.50},{"t":"2025091811","v":31.45},{"t":"2025091812","v":28.21},{"t":"2025091813","v":31.42},{"t":"2025091900","v":31.52},{"t":"2025091912","v":31.36},{"t":"2025092000","v":31.50},{"t":"2025092012","v":31.38},{"t":"2025092100","v":31.52},{"t":"2025092112","v":31.36},{"t":"2025092200","v":31.50},{"t":"2025092212","v":31.37},{"t":"2025092300","v":31.51},{"t":"2025092312","v":31.38},{"t":"2025092400","v":31.49},{"t":"2025092412","v":30.92},{"t":"2025092500","v":31.50},{"t":"2025092512","v":31.36},{"t":"2025092600","v":31.52},{"t":"2025092612","v":31.38},{"t":"2025092700","v":31.50},{"t":"2025092712","v":31.00},{"t":"2025092800","v":31.48},{"t":"2025092812","v":31.36},{"t":"2025092900","v":31.50},{"t":"2025092912","v":31.35},{"t":"2025093000","v":31.52},{"t":"2025093012","v":31.38},
{"t":"2025100100","v":31.52},{"t":"2025100112","v":31.40},{"t":"2025100200","v":31.54},{"t":"2025100212","v":31.42},{"t":"2025100300","v":31.53},{"t":"2025100312","v":31.40},{"t":"2025100400","v":31.55},{"t":"2025100412","v":31.42},{"t":"2025100500","v":31.54},{"t":"2025100512","v":31.41},{"t":"2025100600","v":31.55},{"t":"2025100612","v":31.43},{"t":"2025100700","v":31.56},{"t":"2025100712","v":31.42},{"t":"2025100800","v":31.55},{"t":"2025100812","v":31.44},{"t":"2025100900","v":31.54},{"t":"2025100912","v":31.42},{"t":"2025101000","v":31.55},{"t":"2025101012","v":31.43},{"t":"2025101100","v":31.54},{"t":"2025101112","v":31.42},{"t":"2025101200","v":31.53},{"t":"2025101212","v":31.41},{"t":"2025101300","v":31.54},{"t":"2025101312","v":31.42},{"t":"2025101400","v":31.53},{"t":"2025101411","v":31.46},{"t":"2025101412","v":30.02},{"t":"2025101413","v":31.44},{"t":"2025101500","v":31.52},{"t":"2025101512","v":31.40},{"t":"2025101600","v":31.53},{"t":"2025101612","v":31.42},{"t":"2025101700","v":31.52},{"t":"2025101712","v":31.41},{"t":"2025101800","v":31.53},{"t":"2025101812","v":31.40},{"t":"2025101900","v":31.51},{"t":"2025101912","v":31.40},{"t":"2025102000","v":31.52},{"t":"2025102012","v":31.39},{"t":"2025102100","v":31.50},{"t":"2025102112","v":31.38},{"t":"2025102200","v":31.51},{"t":"2025102212","v":31.39},{"t":"2025102300","v":31.50},{"t":"2025102312","v":31.40},{"t":"2025102400","v":31.51},{"t":"2025102412","v":31.38},{"t":"2025102500","v":31.50},{"t":"2025102512","v":31.39},{"t":"2025102600","v":31.50},{"t":"2025102612","v":31.92},{"t":"2025102614","v":31.40},{"t":"2025102700","v":31.49},{"t":"2025102712","v":31.38},{"t":"2025102800","v":31.50},{"t":"2025102812","v":31.39},{"t":"2025102900","v":31.48},{"t":"2025102912","v":31.36},{"t":"2025103000","v":31.40},{"t":"2025103012","v":31.21},{"t":"2025103100","v":31.42},{"t":"2025103112","v":31.30},
{"t":"2025110100","v":31.46},{"t":"2025110112","v":31.34},{"t":"2025110200","v":31.48},{"t":"2025110212","v":31.36},{"t":"2025110300","v":31.50},{"t":"2025110312","v":31.38},{"t":"2025110400","v":31.51},{"t":"2025110412","v":31.40},{"t":"2025110500","v":31.52},{"t":"2025110512","v":31.41},{"t":"2025110600","v":31.53},{"t":"2025110612","v":31.42},{"t":"2025110700","v":31.54},{"t":"2025110712","v":31.43},{"t":"2025110800","v":31.55},{"t":"2025110812","v":31.44},{"t":"2025110900","v":31.56},{"t":"2025110912","v":31.45},{"t":"2025111000","v":31.56},{"t":"2025111002","v":32.03},{"t":"2025111003","v":28.92},{"t":"2025111004","v":31.45},{"t":"2025111012","v":31.30},{"t":"2025111100","v":31.46},{"t":"2025111112","v":31.24},{"t":"2025111200","v":31.45},{"t":"2025111212","v":31.22},{"t":"2025111300","v":31.44},{"t":"2025111312","v":31.20},{"t":"2025111400","v":31.42},{"t":"2025111412","v":31.18},{"t":"2025111500","v":31.40},{"t":"2025111512","v":31.10},{"t":"2025111600","v":31.42},{"t":"2025111612","v":30.80},{"t":"2025111700","v":31.40},{"t":"2025111712","v":31.15},{"t":"2025111800","v":31.42},{"t":"2025111812","v":31.20},{"t":"2025111900","v":31.44},{"t":"2025111912","v":31.22},{"t":"2025112000","v":31.45},{"t":"2025112012","v":31.30},{"t":"2025112100","v":29.90},{"t":"2025112112","v":29.54},{"t":"2025112200","v":30.10},{"t":"2025112212","v":29.80},{"t":"2025112300","v":29.60},{"t":"2025112312","v":29.46},{"t":"2025112400","v":30.10},{"t":"2025112412","v":30.40},{"t":"2025112413","v":28.09},{"t":"2025112414","v":31.40},{"t":"2025112500","v":31.50},{"t":"2025112512","v":31.15},{"t":"2025112600","v":31.48},{"t":"2025112612","v":31.12},{"t":"2025112700","v":31.50},{"t":"2025112712","v":31.18},{"t":"2025112800","v":31.52},{"t":"2025112812","v":31.20},{"t":"2025112900","v":31.55},{"t":"2025112912","v":31.30},{"t":"2025113000","v":31.56},{"t":"2025113012","v":31.35},
{"t":"2025120100","v":31.58},{"t":"2025120112","v":31.42},{"t":"2025120200","v":31.60},{"t":"2025120212","v":31.44},{"t":"2025120300","v":31.61},{"t":"2025120312","v":31.45},{"t":"2025120400","v":31.60},{"t":"2025120412","v":31.46},{"t":"2025120500","v":31.62},{"t":"2025120512","v":31.47},{"t":"2025120600","v":31.61},{"t":"2025120612","v":31.48},{"t":"2025120700","v":31.63},{"t":"2025120712","v":31.49},{"t":"2025120800","v":31.62},{"t":"2025120812","v":31.48},{"t":"2025120900","v":31.64},{"t":"2025120912","v":31.50},{"t":"2025121000","v":31.63},{"t":"2025121012","v":31.49},{"t":"2025121100","v":31.65},{"t":"2025121112","v":31.51},{"t":"2025121200","v":31.66},{"t":"2025121212","v":31.52},{"t":"2025121300","v":31.67},{"t":"2025121312","v":31.53},{"t":"2025121400","v":31.68},{"t":"2025121412","v":31.54},{"t":"2025121500","v":31.70},{"t":"2025121512","v":31.56},{"t":"2025121600","v":31.72},{"t":"2025121612","v":31.58},{"t":"2025121700","v":31.74},{"t":"2025121712","v":31.60},{"t":"2025121800","v":31.75},{"t":"2025121812","v":31.62},{"t":"2025121900","v":31.76},{"t":"2025121912","v":31.60},{"t":"2025122000","v":31.74},{"t":"2025122012","v":31.58},{"t":"2025122100","v":31.72},{"t":"2025122112","v":31.45},{"t":"2025122200","v":31.45},{"t":"2025122212","v":31.13},{"t":"2025122300","v":31.40},{"t":"2025122312","v":31.15},{"t":"2025122400","v":31.42},{"t":"2025122412","v":31.12},{"t":"2025122500","v":31.44},{"t":"2025122512","v":31.16},{"t":"2025122600","v":31.46},{"t":"2025122612","v":31.18},{"t":"2025122700","v":31.48},{"t":"2025122712","v":31.14},{"t":"2025122800","v":31.50},{"t":"2025122812","v":31.20},{"t":"2025122900","v":31.52},{"t":"2025122912","v":31.22},{"t":"2025123000","v":31.54},{"t":"2025123012","v":31.25},{"t":"2025123100","v":31.55},{"t":"2025123112","v":31.28},
{"t":"2026010100","v":31.56},{"t":"2026010112","v":31.30},{"t":"2026010200","v":31.86},{"t":"2026010212","v":31.32},{"t":"2026010300","v":31.58},{"t":"2026010312","v":31.34},{"t":"2026010400","v":31.60},{"t":"2026010412","v":31.35},{"t":"2026010500","v":31.62},{"t":"2026010512","v":31.30},{"t":"2026010600","v":31.60},{"t":"2026010612","v":31.28},{"t":"2026010700","v":31.58},{"t":"2026010712","v":31.25},{"t":"2026010722","v":31.28},{"t":"2026010800","v":34.36}
]},
"mark": {"type": "line", "color": "#0072BD", "strokeWidth": 2, "clip": true},
"encoding": {
"x": {"field": "t", "type": "temporal",
"scale": {"type": "utc", "domain": [{"year":2024,"month":5,"date":5,"utc":true},{"year":2026,"month":1,"date":8,"utc":true}]},
"axis": {"values": [{"year":2024,"month":5,"date":5,"utc":true},{"year":2024,"month":8,"date":15,"utc":true},{"year":2024,"month":11,"date":26,"utc":true},{"year":2025,"month":3,"date":8,"utc":true},{"year":2025,"month":6,"date":18,"utc":true},{"year":2025,"month":9,"date":28,"utc":true},{"year":2026,"month":1,"date":8,"utc":true}],
"title": null, "grid": false, "domainColor": "#262626", "domainWidth": 1, "tickColor": "#262626", "tickWidth": 1, "tickSize": -31,
"labelFont": "DejaVu Sans Mono", "labelFontSize": 20, "labelColor": "#262626", "labelPadding": 40, "labelLineHeight": 28, "labelBaseline": "top", "labelFlush": false, "labelOverlap": false, "labelBound": false,
"labelExpr": "[utcFormat(datum.value, '%d %b') + '\u2800', '\u2800\u2800\u2800' + utcFormat(datum.value, '%Y')]"}},
"y": {"field": "v", "type": "quantitative",
"scale": {"domain": [16, 36], "nice": false, "zero": false},
"axis": {"values": [16,18,20,22,24,26,28,30,32,34,36], "title": "psu", "titleFont": "DejaVu Sans", "titleFontSize": 39, "titleFontWeight": "normal", "titleColor": "#262626", "titleX": -47, "titleY": 918, "titleAngle": -90, "titleAlign": "center", "titleBaseline": "alphabetic",
"grid": false, "domainColor": "#262626", "domainWidth": 1, "tickColor": "#262626", "tickWidth": 1, "tickSize": -31,
"labelFont": "DejaVu Sans Mono", "labelFontSize": 20, "labelColor": "#262626", "labelPadding": 37, "labelFlush": false, "labelOverlap": false, "labelBound": false}}
}
}
